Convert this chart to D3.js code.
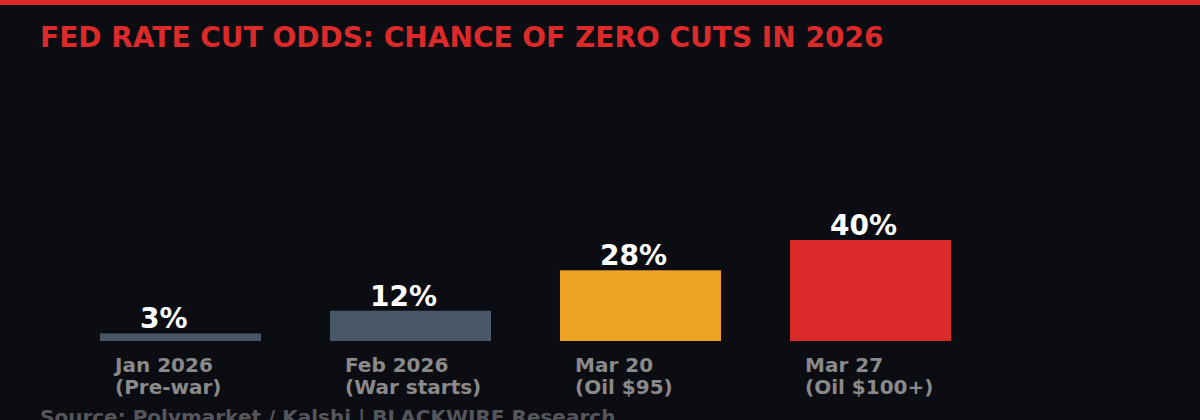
<!DOCTYPE html>
<html>
<head>
<meta charset="utf-8">
<script src="https://cdn.jsdelivr.net/npm/d3@7"></script>
<style>
  html, body { margin: 0; padding: 0; background: #0c0d12; }
  svg { display: block; font-family: "DejaVu Sans", sans-serif; }
</style>
</head>
<body>
<script>
const title = 'FED RATE CUT ODDS: CHANCE OF ZERO CUTS IN 2026';
const source = 'Source: Polymarket / Kalshi | BLACKWIRE Research';

const categories = ['Jan 2026', 'Feb 2026', 'Mar 20', 'Mar 27'];
const subLabels = ['(Pre-war)', '(War starts)', '(Oil $95)', '(Oil $100+)'];
const values = [3, 12, 28, 40];
const colors = ['#485868', '#485868', '#eea226', '#dc2a2a'];

const width = 1200, height = 420;

const svg = d3.select('body')
    .append('svg')
    .attr('width', width)
    .attr('height', height);

svg.append('rect')
    .attr('width', width)
    .attr('height', height)
    .attr('fill', '#0c0d12');

// red strip along the top
svg.append('rect')
    .attr('width', width)
    .attr('height', 5)
    .attr('fill', '#dc2a2a');

svg.append('text')
    .attr('x', 40)
    .attr('y', 47)
    .attr('fill', '#dc2a2a')
    .style('font-size', '28px')
    .style('font-weight', 'bold')
    .text(title);

const x = d3.scaleBand()
    .domain(categories)
    .range([100, 951])
    .paddingInner(0.3)
    .paddingOuter(0);

const y = d3.scaleLinear()
    .domain([0, 100])
    .range([341, 88.5]);

const bars = svg.selectAll('g.bar')
    .data(categories)
    .enter()
    .append('g')
    .attr('class', 'bar');

bars.append('rect')
    .attr('x', d => x(d))
    .attr('y', (d, i) => y(values[i]))
    .attr('width', x.bandwidth())
    .attr('height', (d, i) => y(0) - y(values[i]))
    .attr('fill', (d, i) => colors[i]);

bars.append('text')
    .attr('x', d => x(d) + 40)
    .attr('y', (d, i) => y(values[i]) - 5)
    .attr('fill', '#ffffff')
    .style('font-size', '28px')
    .style('font-weight', 'bold')
    .text((d, i) => values[i] + '%');

bars.append('text')
    .attr('x', d => x(d) + 15)
    .attr('y', 372)
    .attr('fill', '#8a8a8a')
    .style('font-size', '20px')
    .style('font-weight', 'bold')
    .text(d => d);

bars.append('text')
    .attr('x', d => x(d) + 15)
    .attr('y', 394)
    .attr('fill', '#8a8a8a')
    .style('font-size', '20px')
    .style('font-weight', 'bold')
    .text((d, i) => subLabels[i]);

svg.append('text')
    .attr('x', 40)
    .attr('y', 424)
    .attr('fill', '#55565b')
    .style('font-size', '20px')
    .style('font-weight', 'bold')
    .text(source);
</script>
</body>
</html>
